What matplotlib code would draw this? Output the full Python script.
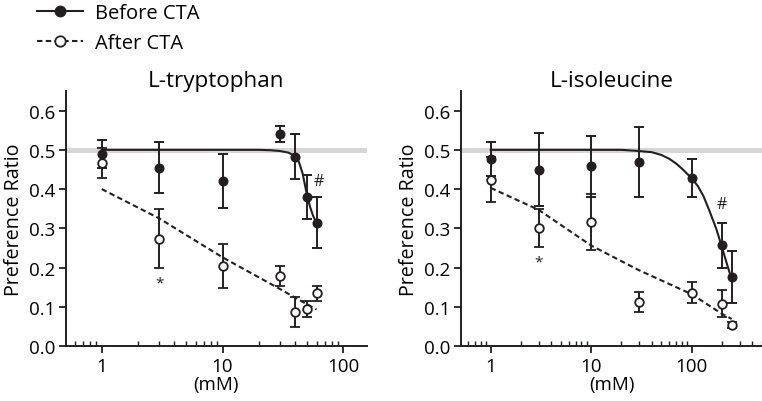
import matplotlib
matplotlib.use("Agg")
import matplotlib.pyplot as plt
from matplotlib.lines import Line2D
from matplotlib.ticker import LogLocator, NullFormatter, FixedLocator

plt.rcParams["font.family"] = ["Open Sans", "DejaVu Sans"]
plt.rcParams["font.size"] = 13.5

INK = "#231f20"
DASH = (0, (2.6, 1.6))

# L-tryptophan
trp_conc = [1, 3, 10, 30, 40, 50, 60]
trp_before = [0.489, 0.455, 0.421, 0.540, 0.483, 0.381, 0.314]
trp_before_err = [0.035, 0.066, 0.068, 0.020, 0.058, 0.056, 0.065]
trp_after = [0.466, 0.274, 0.203, 0.178, 0.087, 0.095, 0.134]
trp_after_err = [0.038, 0.075, 0.056, 0.025, 0.039, 0.020, 0.020]
# fitted curves
trp_fit_before_x = [1, 10, 20, 25, 30, 35, 40, 43, 46, 48, 50, 53, 56, 60]
trp_fit_before_y = [0.5, 0.5, 0.5, 0.499, 0.497, 0.493, 0.484, 0.468, 0.440, 0.412,
                    0.385, 0.355, 0.333, 0.313]
trp_fit_after_x = [1, 3, 10, 30, 40, 60]
trp_fit_after_y = [0.400, 0.325, 0.226, 0.145, 0.123, 0.093]

# L-isoleucine
ile_conc = [1, 3, 10, 30, 100, 200, 250]
ile_before = [0.477, 0.449, 0.458, 0.469, 0.428, 0.257, 0.175]
ile_before_err = [0.044, 0.093, 0.078, 0.090, 0.049, 0.057, 0.066]
ile_after = [0.424, 0.301, 0.316, 0.112, 0.136, 0.108, 0.053]
ile_after_err = [0.058, 0.049, 0.072, 0.025, 0.027, 0.034, 0.008]
ile_fit_before_x = [1, 10, 20, 30, 40, 50, 60, 70, 80, 98, 115, 131, 150, 175,
                    200, 225, 250]
ile_fit_before_y = [0.5, 0.5, 0.5, 0.497, 0.494, 0.487, 0.477, 0.465, 0.452, 0.430,
                    0.408, 0.382, 0.345, 0.300, 0.252, 0.208, 0.170]
ile_fit_after_x = [1, 3, 10, 30, 100, 200, 250]
ile_fit_after_y = [0.403, 0.347, 0.256, 0.193, 0.132, 0.082, 0.069]


def draw_panel(ax, title, conc, before, before_err, after, after_err,
               fbx, fby, fax, fay, xmax, star, hash_pos):
    ax.axhline(0.5, color="#d6d6d6", lw=3.6, zorder=0)
    ax.plot(fbx, fby, color=INK, lw=1.5, zorder=2)
    ax.plot(fax, fay, color=INK, lw=1.5, ls=DASH, zorder=2)
    ax.errorbar(conc, before, yerr=before_err, fmt="o", color=INK, ms=6.2,
                elinewidth=1.4, capsize=3.8, capthick=1.4, zorder=3)
    ax.errorbar(conc, after, yerr=after_err, fmt="o", color=INK, mfc="white",
                mec=INK, mew=1.3, ms=6.2, elinewidth=1.4, capsize=3.8,
                capthick=1.4, zorder=4)
    ax.text(star[0], star[1], "*", ha="center", va="center", fontsize=11, color=INK)
    ax.text(hash_pos[0], hash_pos[1], "#", ha="center", va="center", fontsize=11.5, color=INK)

    ax.set_xscale("log")
    ax.set_xlim(0.506, xmax)
    ax.set_ylim(0, 0.65)
    ax.set_yticks([0.0, 0.1, 0.2, 0.3, 0.4, 0.5, 0.6])
    ax.set_yticklabels(["0.0", "0.1", "0.2", "0.3", "0.4", "0.5", "0.6"])
    ax.xaxis.set_major_locator(FixedLocator([1, 10, 100]))
    ax.set_xticklabels(["1", "10", "100"])
    ax.xaxis.set_minor_locator(LogLocator(base=10, subs=range(2, 10), numticks=20))
    ax.xaxis.set_minor_formatter(NullFormatter())
    ax.tick_params(axis="x", which="major", direction="out", length=5, width=1.3, color=INK, pad=3)
    ax.tick_params(axis="x", which="minor", direction="in", length=3.5, width=1.0, color=INK)
    ax.tick_params(axis="y", direction="out", length=5, width=1.3, color=INK, pad=3)
    for s in ["top", "right"]:
        ax.spines[s].set_visible(False)
    for s in ["left", "bottom"]:
        ax.spines[s].set_linewidth(1.4)
        ax.spines[s].set_color(INK)
    ax.set_title(title, pad=1)
    ax.set_ylabel("Preference Ratio", labelpad=3, fontsize=14.2)
    ax.set_xlabel("(mM)", labelpad=0)


fig = plt.figure(figsize=(7.62, 4.02), dpi=100)
ax1 = fig.add_axes([66 / 762, 55 / 402, 301 / 762, 255 / 402])
ax2 = fig.add_axes([461 / 762, 55 / 402, 301 / 762, 255 / 402])

draw_panel(ax1, "L-tryptophan", trp_conc, trp_before, trp_before_err,
           trp_after, trp_after_err, trp_fit_before_x, trp_fit_before_y,
           trp_fit_after_x, trp_fit_after_y, 157, (3, 0.16), (62, 0.42))
draw_panel(ax2, "L-isoleucine", ile_conc, ile_before, ile_before_err,
           ile_after, ile_after_err, ile_fit_before_x, ile_fit_before_y,
           ile_fit_after_x, ile_fit_after_y, 501, (3, 0.215), (200, 0.361))

handles = [
    Line2D([], [], color=INK, lw=1.5, marker="o", ms=7.5, mfc=INK),
    Line2D([], [], color=INK, lw=1.5, ls=DASH, marker="o", ms=7.5,
           mfc="white", mew=1.3),
]
fig.legend(handles, ["Before CTA", "After CTA"], loc="upper left",
           bbox_to_anchor=(37 / 762, 1 - 4 / 402), frameon=False, fontsize=14.5,
           handlelength=2.3, handletextpad=0.6, labelspacing=0.5,
           borderpad=0, borderaxespad=0)

fig.savefig("out.png", dpi=100)
